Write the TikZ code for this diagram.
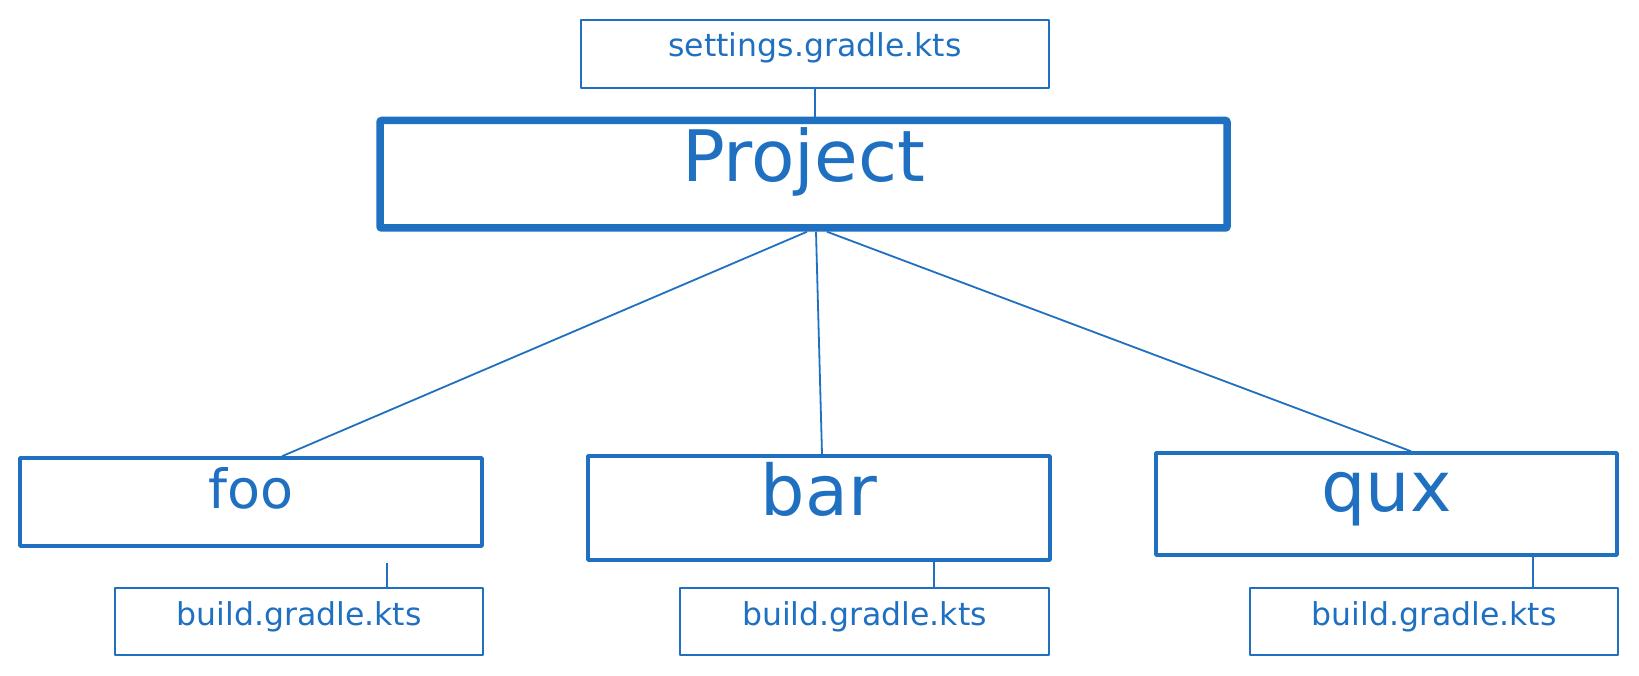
\documentclass[tikz,border=0pt]{standalone}
\usepackage{fontspec}
\setmainfont{DejaVu Sans}
\usepackage{tikz}
\usetikzlibrary{positioning, calc}
\definecolor{gblue}{HTML}{1F70C1}

\begin{document}
\begin{tikzpicture}[
        x=1pt, y=-1pt,
        box/.style={draw=gblue, text=gblue, inner sep=0pt, outer sep=0pt, anchor=north west, line join=round, align=center},
        dims/.style n args={3}{minimum width=#1, text height=#2, text depth=#3},
        filebox/.style={box, line width=2pt, font=\fontsize{31.5}{36}\selectfont},
        modbox/.style={box, line width=3.5pt, font=\fontsize{#1}{#1}\selectfont},
        link/.style={draw=gblue, line width=1.8pt},
    ]
    \useasboundingbox (0,0) rectangle (1639,676);

    % Root project and settings
    \node[filebox, dims={468pt}{37pt}{31pt}] (set) at (581,20) {settings.gradle.kts};
    \node[box, line width=7.5pt, rounded corners=1pt, font=\fontsize{71}{71}\selectfont, dims={847pt}{61.5pt}{46pt}] (prj) at (380,120.5) {Project};

    % Subprojects
    \node[modbox=54, dims={462pt}{50pt}{38pt}] (foo) at (20,458) {foo};
    \node[modbox=70, dims={462pt}{59pt}{45pt}] (bar) at (588,456) {bar};
    \node[modbox=70, dims={461pt}{58pt}{44pt}] (qux) at (1156,453) {qux};

    % Build scripts
    \node[filebox, dims={368pt}{37pt}{30pt}] (fooB) at (115,588) {build.gradle.kts};
    \node[filebox, dims={369pt}{37pt}{30pt}] (barB) at (680,588) {build.gradle.kts};
    \node[filebox, dims={368pt}{37pt}{30pt}] (quxB) at (1250,588) {build.gradle.kts};
    \coordinate (fooT) at (387,563);

    % Links
    \draw[link] (set.south) -- (set.south |- prj.north);
    \draw[link] ([xshift=3.5pt, yshift=-3.75pt]prj.south) -- ([xshift=31pt, yshift=1.75pt]foo.north);
    \draw[link] ([xshift=12.5pt, yshift=-3.75pt]prj.south) -- ([xshift=3pt, yshift=1.75pt]bar.north);
    \draw[link] ([xshift=23.5pt, yshift=-3.75pt]prj.south) -- ([xshift=24.5pt, yshift=1.75pt]qux.north);
    \draw[link] (fooT) -- (fooT |- fooB.north);
    \draw[link] ([xshift=69.5pt]barB.north) -- ([xshift=69.5pt]barB.north |- bar.south);
    \draw[link] ([xshift=99pt]quxB.north) -- ([xshift=99pt]quxB.north |- qux.south);

\end{tikzpicture}
\end{document}
